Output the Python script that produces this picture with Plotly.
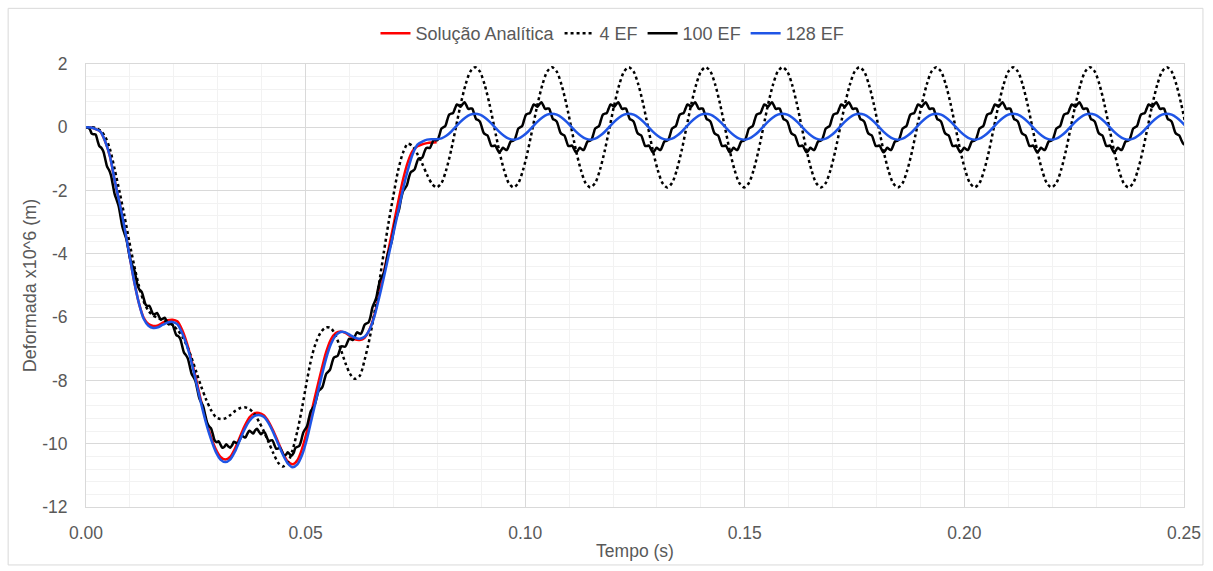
import numpy as np
import plotly.graph_objects as go

# ---------------- data ----------------
dt_coarse = 0.00109375   # sampling step of analytic / 4 EF / 128 EF series (s)
dt_fine = 0.0004375      # sampling step of 100 EF series (s)

analitica = [
    0, -0.01, -0.06, -0.14, -0.45, -0.93, -1.7, -2.4, -3.15, -4.0,
    -4.85, -5.55, -6.02, -6.22, -6.28, -6.26, -6.17, -6.1, -6.08, -6.13,
    -6.4, -6.82, -7.38, -8.02, -8.68, -9.28, -9.78, -10.17, -10.42, -10.5,
    -10.42, -10.16, -9.8, -9.45, -9.17, -9.04, -9.03, -9.1, -9.3, -9.6,
    -9.95, -10.3, -10.56, -10.65, -10.52, -10.15, -9.6, -8.95, -8.3, -7.68,
    -7.1, -6.7, -6.5, -6.45, -6.5, -6.6, -6.7, -6.72, -6.65, -6.4,
    -5.95, -5.3, -4.6, -3.85, -3.1, -2.35, -1.65, -1.1, -0.75, -0.6,
    -0.54, -0.5, -0.48, -0.47,
]

ef4 = [
    0, 0, -0.02, -0.1, -0.3, -0.7, -1.35, -2.05, -2.8, -3.6,
    -4.35, -5.0, -5.5, -5.8, -5.95, -6.03, -6.1, -6.16, -6.25, -6.4,
    -6.6, -6.9, -7.3, -7.75, -8.2, -8.6, -8.93, -9.15, -9.22, -9.2,
    -9.1, -8.97, -8.88, -8.85, -8.9, -9.05, -9.3, -9.6, -9.95, -10.3,
    -10.6, -10.72, -10.6, -10.2, -9.6, -8.85, -8.0, -7.25, -6.75, -6.45,
    -6.32, -6.35, -6.6, -7.0, -7.45, -7.8, -7.95, -7.85, -7.35, -6.7,
    -5.9, -4.95, -3.95, -3.0, -2.15, -1.35, -0.8, -0.52, -0.6, -0.85,
    -1.15, -1.5, -1.78,
    -1.90, -1.76, -1.34, -0.73, 0.00, 0.73, 1.34, 1.76,
    1.90, 1.76, 1.34, 0.73, 0.00, -0.73, -1.34, -1.76, -1.90, -1.76, -1.34, -0.73, 0.00, 0.73, 1.34, 1.76,
    1.90, 1.76, 1.34, 0.73, 0.00, -0.73, -1.34, -1.76, -1.90, -1.76, -1.34, -0.73, 0.00, 0.73, 1.34, 1.76,
    1.90, 1.76, 1.34, 0.73, 0.00, -0.73, -1.34, -1.76, -1.90, -1.76, -1.34, -0.73, 0.00, 0.73, 1.34, 1.76,
    1.90, 1.76, 1.34, 0.73, 0.00, -0.73, -1.34, -1.76, -1.90, -1.76, -1.34, -0.73, 0.00, 0.73, 1.34, 1.76,
    1.90, 1.76, 1.34, 0.73, 0.00, -0.73, -1.34, -1.76, -1.90, -1.76, -1.34, -0.73, 0.00, 0.73, 1.34, 1.76,
    1.90, 1.76, 1.34, 0.73, 0.00, -0.73, -1.34, -1.76, -1.90, -1.76, -1.34, -0.73, 0.00, 0.73, 1.34, 1.76,
    1.90, 1.76, 1.34, 0.73, 0.00, -0.73, -1.34, -1.76, -1.90, -1.76, -1.34, -0.73, 0.00, 0.73, 1.34, 1.76,
    1.90, 1.76, 1.34, 0.73, 0.00, -0.73, -1.34, -1.76, -1.90, -1.76, -1.34, -0.73, 0.00, 0.73, 1.34, 1.76,
    1.90, 1.76, 1.34, 0.73, 0.00, -0.73, -1.34, -1.76, -1.90, -1.76, -1.34, -0.73, 0.00, 0.73, 1.34, 1.76,
    1.90, 1.76, 1.34, 0.73, 0.00,
]

ef128 = [
    0, -0.01, -0.06, -0.14, -0.45, -0.93, -1.7, -2.4, -3.15, -4.0,
    -4.85, -5.55, -6.05, -6.27, -6.34, -6.32, -6.24, -6.17, -6.15, -6.22,
    -6.5, -6.9, -7.45, -8.1, -8.75, -9.35, -9.85, -10.25, -10.5, -10.58,
    -10.5, -10.25, -9.9, -9.55, -9.28, -9.13, -9.09, -9.15, -9.35, -9.65,
    -10.0, -10.35, -10.62, -10.74, -10.65, -10.35, -9.85, -9.2, -8.55, -7.9,
    -7.3, -6.85, -6.58, -6.47, -6.48, -6.57, -6.65, -6.68, -6.62, -6.4,
    -6.0, -5.4, -4.75, -4.05, -3.35, -2.65, -1.95, -1.35, -0.85, -0.55,
    -0.45, -0.39, -0.38,
    -0.38, -0.35, -0.27, -0.14, 0.02, 0.18, 0.31, 0.40,
    0.43, 0.40, 0.31, 0.18, 0.02, -0.14, -0.27, -0.36, -0.39, -0.36, -0.27, -0.14, 0.02, 0.18, 0.31, 0.40,
    0.43, 0.40, 0.31, 0.18, 0.02, -0.14, -0.27, -0.36, -0.39, -0.36, -0.27, -0.14, 0.02, 0.18, 0.31, 0.40,
    0.43, 0.40, 0.31, 0.18, 0.02, -0.14, -0.27, -0.36, -0.39, -0.36, -0.27, -0.14, 0.02, 0.18, 0.31, 0.40,
    0.43, 0.40, 0.31, 0.18, 0.02, -0.14, -0.27, -0.36, -0.39, -0.36, -0.27, -0.14, 0.02, 0.18, 0.31, 0.40,
    0.43, 0.40, 0.31, 0.18, 0.02, -0.14, -0.27, -0.36, -0.39, -0.36, -0.27, -0.14, 0.02, 0.18, 0.31, 0.40,
    0.43, 0.40, 0.31, 0.18, 0.02, -0.14, -0.27, -0.36, -0.39, -0.36, -0.27, -0.14, 0.02, 0.18, 0.31, 0.40,
    0.43, 0.40, 0.31, 0.18, 0.02, -0.14, -0.27, -0.36, -0.39, -0.36, -0.27, -0.14, 0.02, 0.18, 0.31, 0.40,
    0.43, 0.40, 0.31, 0.18, 0.02, -0.14, -0.27, -0.36, -0.39, -0.36, -0.27, -0.14, 0.02, 0.18, 0.31, 0.40,
    0.43, 0.40, 0.31, 0.18, 0.02, -0.14, -0.27, -0.36, -0.39, -0.36, -0.27, -0.14, 0.02, 0.18, 0.31, 0.40,
    0.43, 0.40, 0.31, 0.18, 0.02,
]

ef100 = [
    0, -0.01, -0.06, -0.2, -0.22, -0.23, -0.42, -0.60, -0.65, -0.76,
    -1.0, -1.25, -1.35, -1.52, -1.83, -2.13, -2.3, -2.49, -2.83, -3.16,
    -3.35, -3.53, -3.85, -4.17, -4.35, -4.48, -4.75, -5.02, -5.15, -5.2,
    -5.4, -5.6, -5.65, -5.64, -5.78, -5.91, -5.9, -5.87, -5.98, -6.08,
    -6.05, -6.02, -6.13, -6.23, -6.2, -6.23, -6.4, -6.57, -6.6, -6.68,
    -6.9, -7.12, -7.2, -7.31, -7.55, -7.8, -7.9, -8.03, -8.3, -8.57,
    -8.7, -8.82, -9.08, -9.33, -9.45, -9.51, -9.7, -9.9, -9.95, -9.92,
    -10.03, -10.13, -10.1, -10.02, -10.08, -10.13, -10.05, -9.94, -9.97, -9.99,
    -9.88, -9.76, -9.78, -9.8, -9.68, -9.59, -9.63, -9.68, -9.58, -9.53,
    -9.62, -9.7, -9.65, -9.64, -9.78, -9.91, -9.9, -9.89, -10.03, -10.16,
    -10.15, -10.13, -10.25, -10.37, -10.35, -10.27, -10.33, -10.38, -10.3, -10.13,
    -10.1, -10.07, -9.9, -9.66, -9.55, -9.45, -9.2, -8.97, -8.88, -8.78,
    -8.55, -8.34, -8.28, -8.21, -8.0, -7.79, -7.73, -7.66, -7.45, -7.28,
    -7.25, -7.22, -7.05, -6.92, -6.93, -6.93, -6.8, -6.68, -6.7, -6.72,
    -6.6, -6.48, -6.51, -6.53, -6.41, -6.24, -6.2, -6.17, -6.0, -5.71,
    -5.55, -5.4, -5.1, -4.84, -4.73, -4.61, -4.35, -4.02, -3.83, -3.63,
    -3.3, -2.97, -2.78, -2.58, -2.25, -2.02, -1.93, -1.83, -1.6, -1.42,
    -1.38, -1.33, -1.15, -0.99, -0.98, -0.96, -0.8, -0.66, -0.65, -0.65,
    -0.52, -0.40, -0.41, -0.40,
    -0.23, -0.04, 0.00, 0.04, 0.23, 0.40, 0.43, 0.45, 0.59, 0.72, 0.69, 0.65,
    0.73, 0.79, 0.69, 0.58, 0.59, 0.59, 0.43, 0.26, 0.23, 0.18, 0.00, -0.18, -0.23, -0.26, -0.43, -0.59, -0.59, -0.58, -0.69, -0.79,
    -0.73, -0.65, -0.69, -0.72, -0.59, -0.45, -0.43, -0.40, -0.23, -0.04, 0.00, 0.04, 0.23, 0.40, 0.43, 0.45, 0.59, 0.72, 0.69, 0.65,
    0.73, 0.79, 0.69, 0.58, 0.59, 0.59, 0.43, 0.26, 0.23, 0.18, 0.00, -0.18, -0.23, -0.26, -0.43, -0.59, -0.59, -0.58, -0.69, -0.79,
    -0.73, -0.65, -0.69, -0.72, -0.59, -0.45, -0.43, -0.40, -0.23, -0.04, 0.00, 0.04, 0.23, 0.40, 0.43, 0.45, 0.59, 0.72, 0.69, 0.65,
    0.73, 0.79, 0.69, 0.58, 0.59, 0.59, 0.43, 0.26, 0.23, 0.18, 0.00, -0.18, -0.23, -0.26, -0.43, -0.59, -0.59, -0.58, -0.69, -0.79,
    -0.73, -0.65, -0.69, -0.72, -0.59, -0.45, -0.43, -0.40, -0.23, -0.04, 0.00, 0.04, 0.23, 0.40, 0.43, 0.45, 0.59, 0.72, 0.69, 0.65,
    0.73, 0.79, 0.69, 0.58, 0.59, 0.59, 0.43, 0.26, 0.23, 0.18, 0.00, -0.18, -0.23, -0.26, -0.43, -0.59, -0.59, -0.58, -0.69, -0.79,
    -0.73, -0.65, -0.69, -0.72, -0.59, -0.45, -0.43, -0.40, -0.23, -0.04, 0.00, 0.04, 0.23, 0.40, 0.43, 0.45, 0.59, 0.72, 0.69, 0.65,
    0.73, 0.79, 0.69, 0.58, 0.59, 0.59, 0.43, 0.26, 0.23, 0.18, 0.00, -0.18, -0.23, -0.26, -0.43, -0.59, -0.59, -0.58, -0.69, -0.79,
    -0.73, -0.65, -0.69, -0.72, -0.59, -0.45, -0.43, -0.40, -0.23, -0.04, 0.00, 0.04, 0.23, 0.40, 0.43, 0.45, 0.59, 0.72, 0.69, 0.65,
    0.73, 0.79, 0.69, 0.58, 0.59, 0.59, 0.43, 0.26, 0.23, 0.18, 0.00, -0.18, -0.23, -0.26, -0.43, -0.59, -0.59, -0.58, -0.69, -0.79,
    -0.73, -0.65, -0.69, -0.72, -0.59, -0.45, -0.43, -0.40, -0.23, -0.04, 0.00, 0.04, 0.23, 0.40, 0.43, 0.45, 0.59, 0.72, 0.69, 0.65,
    0.73, 0.79, 0.69, 0.58, 0.59, 0.59, 0.43, 0.26, 0.23, 0.18, 0.00, -0.18, -0.23, -0.26, -0.43, -0.59, -0.59, -0.58, -0.69, -0.79,
    -0.73, -0.65, -0.69, -0.72, -0.59, -0.45, -0.43, -0.40, -0.23, -0.04, 0.00, 0.04, 0.23, 0.40, 0.43, 0.45, 0.59, 0.72, 0.69, 0.65,
    0.73, 0.79, 0.69, 0.58, 0.59, 0.59, 0.43, 0.26, 0.23, 0.18, 0.00, -0.18, -0.23, -0.26, -0.43, -0.59, -0.59, -0.58, -0.69, -0.79,
    -0.73, -0.65, -0.69, -0.72, -0.59, -0.45, -0.43, -0.40, -0.23, -0.04, 0.00, 0.04, 0.23, 0.40, 0.43, 0.45, 0.59, 0.72, 0.69, 0.65,
    0.73, 0.79, 0.69, 0.58, 0.59, 0.59, 0.43, 0.26, 0.23, 0.18, 0.00, -0.18, -0.23, -0.26, -0.43, -0.59, -0.59, -0.58, -0.69, -0.79,
    -0.73, -0.65, -0.69, -0.72, -0.59, -0.45, -0.43, -0.40, -0.23, -0.04, 0.00, 0.04, 0.23, 0.40, 0.43, 0.45, 0.59, 0.72, 0.69, 0.65,
    0.73, 0.79, 0.69, 0.58, 0.59, 0.59, 0.43, 0.26, 0.23, 0.18, 0.00, -0.18, -0.23, -0.26, -0.40, -0.52, -0.56,
]

x_tick_vals = [0.00, 0.05, 0.10, 0.15, 0.20, 0.25]
x_tick_text = ["0.00", "0.05", "0.10", "0.15", "0.20", "0.25"]
y_tick_vals = [2, 0, -2, -4, -6, -8, -10, -12]
y_tick_text = ["2", "0", "-2", "-4", "-6", "-8", "-10", "-12"]

series_names = ["Solução Analítica", "4 EF", "100 EF", "128 EF"]

t_an = np.arange(len(analitica)) * dt_coarse
t_4 = np.arange(len(ef4)) * dt_coarse
t_128 = np.arange(len(ef128)) * dt_coarse
t_100 = np.arange(len(ef100)) * dt_fine

# ---------------- figure ----------------
FONT = "Liberation Sans, Arial, sans-serif"
TXT = "#595959"

fig = go.Figure()
fig.add_trace(go.Scatter(x=t_an, y=analitica, mode="lines", name=series_names[0],
                         line=dict(color="#ff0000", width=2.5, shape="spline", smoothing=0.8)))
fig.add_trace(go.Scatter(x=t_4, y=ef4, mode="lines", name=series_names[1],
                         line=dict(color="#000000", width=2.5, dash="dot", shape="spline", smoothing=0.8)))
fig.add_trace(go.Scatter(x=t_100, y=ef100, mode="lines", name=series_names[2],
                         line=dict(color="#000000", width=2.5, shape="spline", smoothing=0.8)))
fig.add_trace(go.Scatter(x=t_128, y=ef128, mode="lines", name=series_names[3],
                         line=dict(color="#1f55e6", width=2.5, shape="spline", smoothing=0.8)))

fig.update_layout(
    width=1213, height=571,
    margin=dict(l=86, r=27, t=64, b=64),
    paper_bgcolor="white", plot_bgcolor="white",
    font=dict(family=FONT, size=17, color=TXT),
    legend=dict(orientation="h", x=0.4795, xanchor="center", y=1.069, yanchor="middle",
                font=dict(family=FONT, size=18, color=TXT), itemwidth=30,
                bgcolor="rgba(0,0,0,0)"),
    showlegend=True,
)
fig.update_xaxes(
    range=[0, 0.25], tickvals=x_tick_vals, ticktext=x_tick_text,
    tickfont=dict(family=FONT, size=17.5, color=TXT),
    showgrid=True, gridcolor="#d9d9d9", gridwidth=1,
    minor=dict(dtick=0.01, showgrid=True, gridcolor="#f2f2f2", gridwidth=1),
    zeroline=False, showline=True, linecolor="#d9d9d9", mirror=True,
    ticks="", ticklabelstandoff=10,
    title=dict(text="Tempo (s)", font=dict(family=FONT, size=17.5, color=TXT), standoff=2),
)
fig.update_yaxes(
    range=[-12, 2], tickvals=y_tick_vals, ticktext=y_tick_text,
    tickfont=dict(family=FONT, size=17.5, color=TXT),
    showgrid=True, gridcolor="#d9d9d9", gridwidth=1,
    minor=dict(dtick=0.4, tick0=0, showgrid=True, gridcolor="#f2f2f2", gridwidth=1),
    zeroline=False, showline=True, linecolor="#d9d9d9", mirror=True,
    ticks="", ticklabelstandoff=14,
    title=dict(text="Deformada x10^6 (m)", font=dict(family=FONT, size=18, color=TXT), standoff=0),
)
fig.add_shape(type="rect", xref="paper", yref="paper",
              x0=(8 - 86) / 1100, x1=(1205 - 86) / 1100,
              y0=(507 - 565) / 443.3, y1=(507 - 8) / 443.3,
              line=dict(color="#d9d9d9", width=1), fillcolor="rgba(0,0,0,0)", layer="below")

fig.write_html("out.html")
